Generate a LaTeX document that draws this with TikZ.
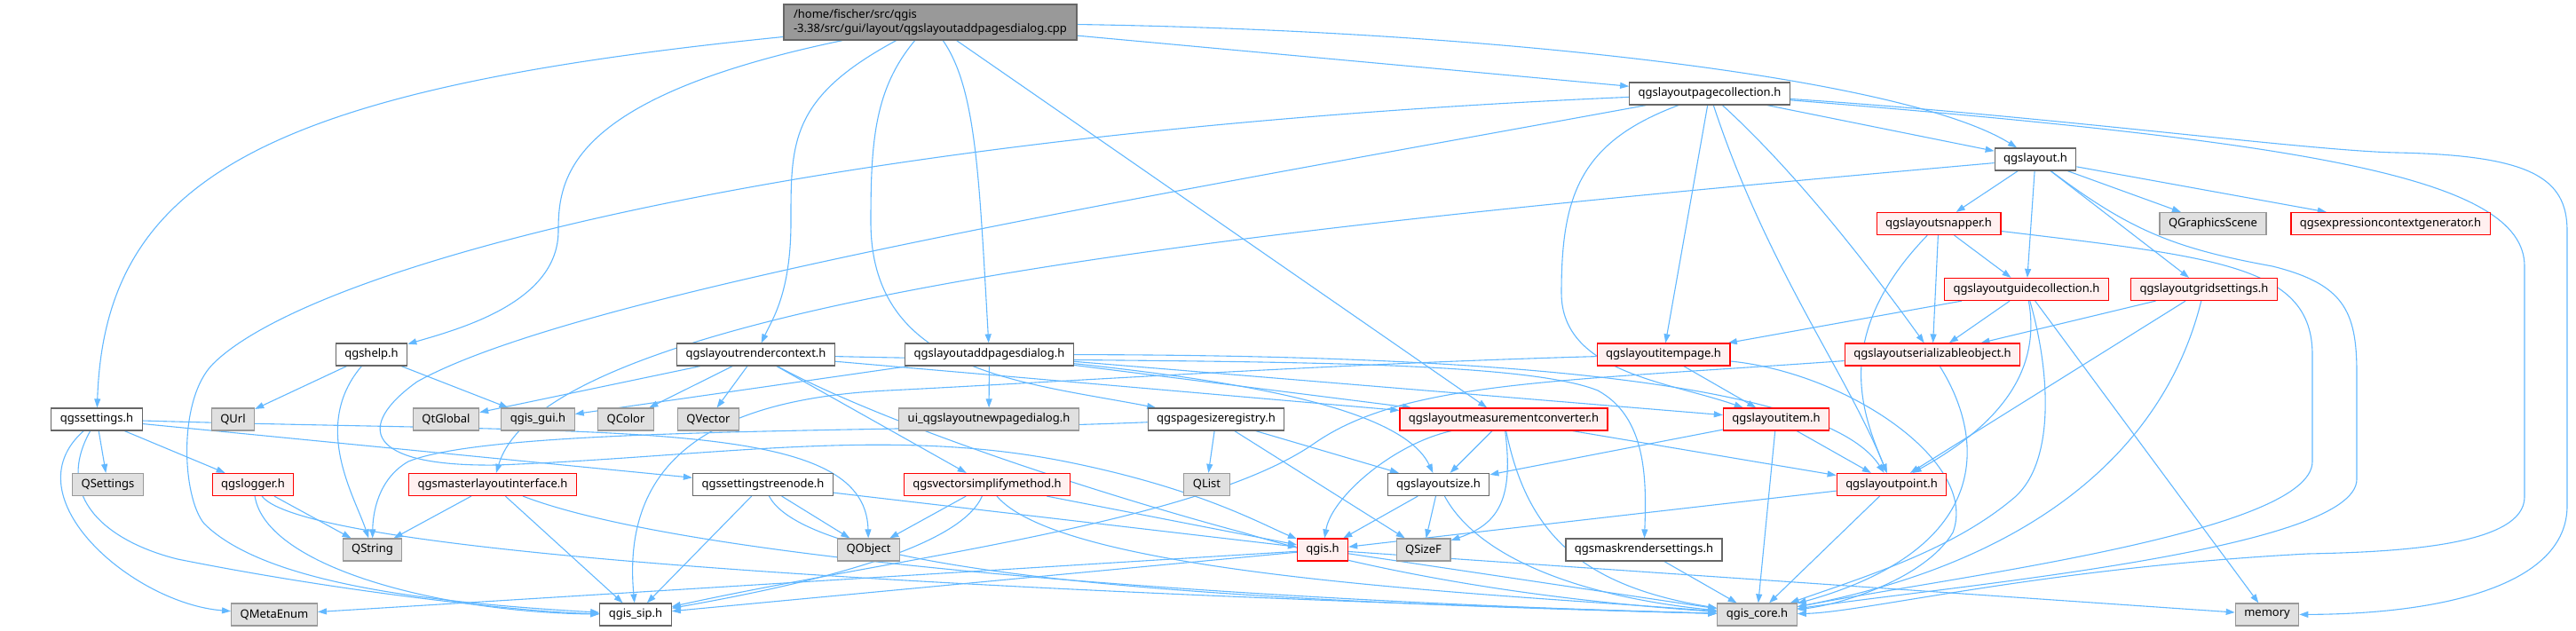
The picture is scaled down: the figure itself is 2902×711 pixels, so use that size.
\documentclass[tikz,border=0pt]{standalone}
\usepackage{fontspec}
\setmainfont{Noto Sans}
\usetikzlibrary{arrows.meta}
\definecolor{edgeblue}{HTML}{63B8FF}
\definecolor{boxgray}{HTML}{666666}
\definecolor{sysgray}{HTML}{999999}
\definecolor{sysfill}{HTML}{E0E0E0}
\definecolor{redfill}{HTML}{FFF0F0}
\pgfdeclarelayer{edges}
\pgfsetlayers{edges,main}
\begin{document}
\begin{tikzpicture}[x=1pt, y=-1pt]
\tikzset{ >={Triangle[length=10pt,width=7pt]},
  every node/.style={font=\fontsize{13}{16}\selectfont, inner xsep=10pt, inner ysep=0pt, minimum height=25pt, line width=1.2pt},
  hdr/.style={draw=boxgray, fill=white},
  redhdr/.style={draw=red, fill=redfill},
  syshdr/.style={draw=sysgray, fill=sysfill},
  mainhdr/.style={draw=boxgray, fill=sysgray, align=left, minimum height=40pt, minimum width=330pt},
  dep/.style={->, draw=edgeblue, line width=1.1pt},
}
\useasboundingbox (0,0) rectangle (2902,711);

% top rows
\node [mainhdr] (cpp)      at (1048,25)    {/home/fischer/src/qgis\\-3.38/src/gui/layout/qgslayoutaddpagesdialog.cpp};
\node [hdr]     (pagecoll) at (1926,105.5) {qgslayoutpagecollection.h};
\node [hdr]     (layout)   at (2293,179.5) {qgslayout.h};
\node [redhdr]  (snapper)  at (2184,252)   {qgslayoutsnapper.h};
\node [syshdr]  (gscene)   at (2493,252)   {QGraphicsScene};
\node [redhdr]  (exprgen)  at (2693,252)   {qgsexpressioncontextgenerator.h};
\node [redhdr]  (guidecoll) at (2283,326)  {qgslayoutguidecollection.h};
\node [redhdr]  (gridset)  at (2483,326)   {qgslayoutgridsettings.h};

% y = 399.5
\node [hdr]     (help)     at (418.5,399.5) {qgshelp.h};
\node [hdr]     (rendctx)  at (851.5,399.5) {qgslayoutrendercontext.h};
\node [hdr]     (adddlg)   at (1114.5,399.5) {qgslayoutaddpagesdialog.h};
\node [redhdr]  (itempage) at (1874,399.5) {qgslayoutitempage.h};
\node [redhdr]  (serial)   at (2177,399.5) {qgslayoutserializableobject.h};

% y = 472.5
\node [hdr]     (settings) at (109,472.5)  {qgssettings.h};
\node [syshdr]  (qurl)     at (262.5,472.5) {QUrl};
\node [syshdr]  (qtglobal) at (502.5,472.5) {QtGlobal};
\node [syshdr]  (gui)      at (606,472.5)  {qgis\_gui.h};
\node [syshdr]  (qcolor)   at (705,472.5)  {QColor};
\node [syshdr]  (qvector)  at (798,472.5)  {QVector};
\node [syshdr]  (uidlg)    at (1114,472.5) {ui\_qgslayoutnewpagedialog.h};
\node [hdr]     (pagereg)  at (1370,472.5) {qgspagesizeregistry.h};
\node [redhdr]  (measconv) at (1694,472.5) {qgslayoutmeasurementconverter.h};
\node [redhdr]  (item)     at (2001,472.5) {qgslayoutitem.h};

% y = 546
\node [syshdr]  (qsettings) at (121.5,546) {QSettings};
\node [redhdr]  (logger)   at (285,546)    {qgslogger.h};
\node [redhdr]  (master)   at (555,546)    {qgsmasterlayoutinterface.h};
\node [hdr]     (treenode) at (859.5,546)  {qgssettingstreenode.h};
\node [redhdr]  (vecsimp)  at (1112,546)   {qgsvectorsimplifymethod.h};
\node [syshdr]  (qlist)    at (1359.5,546) {QList};
\node [hdr]     (size)     at (1620.5,546) {qgslayoutsize.h};
\node [redhdr]  (point)    at (2131,546)   {qgslayoutpoint.h};

% y = 619.5
\node [syshdr]  (qstring)  at (419.5,619.5) {QString};
\node [syshdr]  (qobject)  at (978.5,619.5) {QObject};
\node [redhdr]  (qgis)     at (1490,619.5) {qgis.h};
\node [syshdr]  (sizef)    at (1603.5,619.5) {QSizeF};
\node [hdr]     (maskrs)   at (1852,619.5) {qgsmaskrendersettings.h};

% y = 692.5
\node [syshdr]  (metaenum) at (309,692.5)  {QMetaEnum};
\node [hdr]     (sip)      at (716,692.5)  {qgis\_sip.h};
\node [syshdr]  (core)     at (1979.5,692.5) {qgis\_core.h};
\node [syshdr]  (memory)   at (2554,692.5) {memory};

\begin{pgfonlayer}{edges}
% from the .cpp
\draw [dep] (cpp) .. controls (300,100) and (118,200) .. (settings);
\draw [dep] (cpp) .. controls (640,110) and (629,200) .. (629,260) .. controls (629,340) and (520,370) .. (help);
\draw [dep] (cpp) .. controls (890,110) and (891,160) .. (891,250) .. controls (891,330) and (870,360) .. (rendctx);
\draw [dep] (cpp) .. controls (985,100) and (981,160) .. (981,250) .. controls (981,420) and (1150,430) .. (pagereg);
\draw [dep] (cpp) .. controls (1100,100) and (1103,200) .. (adddlg);
\draw [dep] (cpp) -- (measconv);
\draw [dep] (cpp) -- (pagecoll);
\draw [dep] (cpp) .. controls (1700,35) and (2150,90) .. (layout);

% qgslayoutpagecollection.h
\draw [dep] (pagecoll) -- (layout);
\draw [dep] (pagecoll) .. controls (900,150) and (350,300) .. (240,410) .. controls (200,450) and (205,560) .. (230,590) .. controls (300,660) and (500,680) .. (sip);
\draw [dep] (pagecoll) .. controls (1300,220) and (650,330) .. (470,430) .. controls (400,480) and (410,526) .. (560,524) .. controls (800,515) and (1000,480) .. (1200,520) .. controls (1350,550) and (1420,590) .. (qgis);
\draw [dep] (pagecoll) -- (itempage);
\draw [dep] (pagecoll) .. controls (1780,160) and (1759,220) .. (1759,330) .. controls (1759,420) and (1880,430) .. (item);
\draw [dep] (pagecoll) .. controls (1990,300) and (2080,420) .. (point);
\draw [dep] (pagecoll) .. controls (2030,200) and (2120,320) .. (serial);
\draw [dep] (pagecoll) .. controls (2600,160) and (2844,200) .. (2844,300) -- (2844,560) .. controls (2844,615) and (2700,622) .. (2600,624) .. controls (2300,640) and (2100,690) .. (core);
\draw [dep] (pagecoll) .. controls (2300,130) and (2600,170) .. (2700,172) .. controls (2850,175) and (2892,200) .. (2892,260) -- (2892,570) .. controls (2892,660) and (2750,692) .. (memory);

% qgslayout.h
\draw [dep] (layout) .. controls (1500,250) and (620,330) .. (master);
\draw [dep] (layout) -- (snapper);
\draw [dep] (layout) -- (gscene);
\draw [dep] (layout) -- (exprgen);
\draw [dep] (layout) -- (guidecoll);
\draw [dep] (layout) -- (gridset);
\draw [dep] (layout) .. controls (2400,260) and (2450,280) .. (2560,300) .. controls (2640,320) and (2655,350) .. (2655,420) -- (2655,540) .. controls (2655,620) and (2200,660) .. (core);

% snapper, guides, grid
\draw [dep] (snapper) -- (guidecoll);
\draw [dep] (snapper) -- (serial);
\draw [dep] (snapper) .. controls (2060,380) and (2100,470) .. (point);
\draw [dep] (snapper) .. controls (2500,290) and (2605,300) .. (2605,400) -- (2605,520) .. controls (2605,600) and (2200,650) .. (core);
\draw [dep] (guidecoll) -- (itempage);
\draw [dep] (guidecoll) -- (serial);
\draw [dep] (guidecoll) .. controls (2300,420) and (2250,480) .. (point);
\draw [dep] (guidecoll) .. controls (2310,420) and (2315,520) .. (2270,560) .. controls (2200,620) and (2100,650) .. (core);
\draw [dep] (guidecoll) -- (memory);
\draw [dep] (gridset) -- (serial);
\draw [dep] (gridset) -- (point);
\draw [dep] (gridset) .. controls (2440,500) and (2300,630) .. (core);

% serializable object, item page, item, point
\draw [dep] (serial) .. controls (2240,500) and (2240,620) .. (core);
\draw [dep] (serial) .. controls (1750,430) and (1580,430) .. (1480,500) .. controls (1350,590) and (1000,630) .. (sip);
\draw [dep] (itempage) -- (item);
\draw [dep] (itempage) .. controls (2080,420) and (2230,520) .. (2200,600) .. controls (2170,650) and (2080,680) .. (core);
\draw [dep] (itempage) .. controls (1500,410) and (1200,430) .. (1000,440) .. controls (800,450) and (700,520) .. (sip);
\draw [dep] (item) -- (point);
\draw [dep] (item) -- (core);
\draw [dep] (item) -- (size);
\draw [dep] (point) -- (core);
\draw [dep] (point) -- (qgis);
\draw [dep] (maskrs) -- (core);

% measurement converter, size, page sizes
\draw [dep] (measconv) -- (size);
\draw [dep] (measconv) .. controls (1570,500) and (1500,560) .. (qgis);
\draw [dep] (measconv) .. controls (1705,560) and (1690,590) .. (sizef);
\draw [dep] (measconv) .. controls (1720,600) and (1780,660) .. (core);
\draw [dep] (measconv) -- (point);
\draw [dep] (size) -- (qgis);
\draw [dep] (size) -- (sizef);
\draw [dep] (size) .. controls (1660,620) and (1760,670) .. (core);
\draw [dep] (pagereg) -- (qlist);
\draw [dep] (pagereg) -- (size);
\draw [dep] (pagereg) -- (sizef);
\draw [dep] (pagereg) .. controls (1000,488) and (560,480) .. (460,520) .. controls (425,540) and (420,580) .. (qstring);

% render context
\draw [dep] (rendctx) -- (qtglobal);
\draw [dep] (rendctx) -- (qcolor);
\draw [dep] (rendctx) -- (qvector);
\draw [dep] (rendctx) -- (measconv);
\draw [dep] (rendctx) .. controls (1300,410) and (1700,400) .. (1800,440) .. controls (1855,470) and (1855,540) .. (maskrs);
\draw [dep] (rendctx) -- (vecsimp);
\draw [dep] (rendctx) .. controls (1000,480) and (1250,560) .. (1400,600) .. controls (1600,660) and (1800,680) .. (core);

% add pages dialog
\draw [dep] (adddlg) -- (uidlg);
\draw [dep] (adddlg) -- (gui);
\draw [dep] (adddlg) -- (measconv);
\draw [dep] (adddlg) .. controls (1400,430) and (1580,460) .. (size);
\draw [dep] (adddlg) -- (item);
\draw [dep] (adddlg) .. controls (1600,400) and (2050,420) .. (point);

% middle row
\draw [dep] (vecsimp) -- (qobject);
\draw [dep] (vecsimp) .. controls (1080,620) and (900,660) .. (sip);
\draw [dep] (vecsimp) -- (qgis);
\draw [dep] (vecsimp) .. controls (1200,650) and (1700,670) .. (core);
\draw [dep] (treenode) -- (qobject);
\draw [dep] (treenode) -- (sip);
\draw [dep] (treenode) -- (qgis);
\draw [dep] (treenode) .. controls (920,660) and (1500,680) .. (core);
\draw [dep] (master) -- (qstring);
\draw [dep] (master) -- (sip);
\draw [dep] (master) .. controls (800,640) and (1500,680) .. (core);
\draw [dep] (logger) -- (qstring);
\draw [dep] (logger) .. controls (300,640) and (500,690) .. (sip);
\draw [dep] (logger) .. controls (350,630) and (1200,670) .. (core);
\draw [dep] (help) -- (qurl);
\draw [dep] (help) .. controls (350,480) and (400,560) .. (qstring);
\draw [dep] (help) -- (gui);

% qgssettings.h
\draw [dep] (settings) -- (qsettings);
\draw [dep] (settings) -- (logger);
\draw [dep] (settings) .. controls (10,560) and (150,680) .. (metaenum);
\draw [dep] (settings) .. controls (60,560) and (120,610) .. (200,630) .. controls (400,670) and (600,690) .. (sip);
\draw [dep] (settings) -- (treenode);
\draw [dep] (settings) .. controls (700,490) and (975,470) .. (qobject);

% qgis.h
\draw [dep] (qgis) -- (sip);
\draw [dep] (qgis) -- (metaenum);
\draw [dep] (qgis) -- (core);
\draw [dep] (qgis) -- (memory);
\end{pgfonlayer}

\end{tikzpicture}
\end{document}
